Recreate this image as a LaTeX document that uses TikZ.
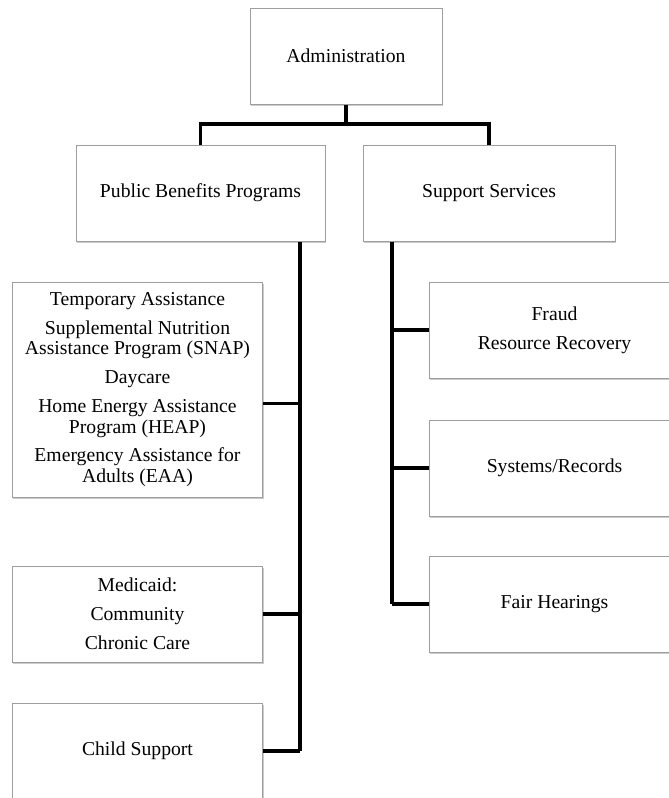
\documentclass[tikz,border=0pt]{standalone}
\usepackage{fontspec}
\setmainfont{Liberation Serif}
\usetikzlibrary{shadows}

\begin{document}
\begin{tikzpicture}[x=0.6pt,y=-0.6pt]
% Styles
\tikzstyle{unit box}=[draw=black!38,line width=0.6pt,fill=white,
  align=center,inner sep=0pt,
  font=\fontsize{11.8}{12.3}\selectfont,
  drop shadow={shadow xshift=0.4pt,shadow yshift=-1.2pt,fill=black!45,opacity=0.45}]
\tikzstyle{link}=[line width=2pt,black]
\useasboundingbox (0,0) rectangle (668,798);
% the boxes
\node[unit box,minimum width=115.2pt,minimum height=57.6pt] (admin) at (346,56) {Administration};
\node[unit box,minimum width=149.4pt,minimum height=57.6pt] (pbp) at (200.5,193) {Public Benefits Programs};
\node[unit box,minimum width=151.2pt,minimum height=57.6pt] (ss) at (489,193) {Support Services};
% left column
\node[unit box,minimum width=150.6pt,minimum height=129pt] (progs) at (137.5,389.5)
  {Temporary Assistance\\[5pt]
   Supplemental Nutrition\\ Assistance Program (SNAP)\\[5pt]
   Daycare\\[5pt]
   Home Energy Assistance\\ Program (HEAP)\\[5pt]
   Emergency Assistance for\\ Adults (EAA)};
\node[unit box,minimum width=150.6pt,minimum height=57.6pt] (medicaid) at (137.5,614)
  {Medicaid:\\[5pt] Community\\[5pt] Chronic Care};
\node[unit box,minimum width=150.6pt,minimum height=57.6pt] (child) at (137.5,751) {Child Support};
% right column
\node[unit box,minimum width=150.6pt,minimum height=57.6pt] (fraud) at (554.5,330)
  {Fraud\\[5pt] Resource Recovery};
\node[unit box,minimum width=150.6pt,minimum height=57.6pt] (sysrec) at (554.5,468) {Systems/Records};
\node[unit box,minimum width=150.6pt,minimum height=57.6pt] (fair) at (554.5,604) {Fair Hearings};
% the connectors
\coordinate (fork) at (346,124);
\coordinate (pspine) at (300,241);
\coordinate (sspine) at (392,241);
\draw[link] (admin.south) -- (fork);
\draw[link] (pbp.north) |- (fork) -| (ss.north);
\draw[link] (pspine |- pbp.south) -- (pspine |- child.east);
\draw[link] (sspine |- ss.south) -- (sspine |- fair.east);
\draw[link] ([yshift=-8.4pt]progs.east) -- ([yshift=-8.4pt]progs.east -| pspine);
\foreach \n in {medicaid,child}
  \draw[link] (\n.east) -- (\n.east -| pspine);
\foreach \n in {fraud,sysrec,fair}
  \draw[link] (sspine |- \n.west) -- (\n.west);
\end{tikzpicture}
\end{document}
